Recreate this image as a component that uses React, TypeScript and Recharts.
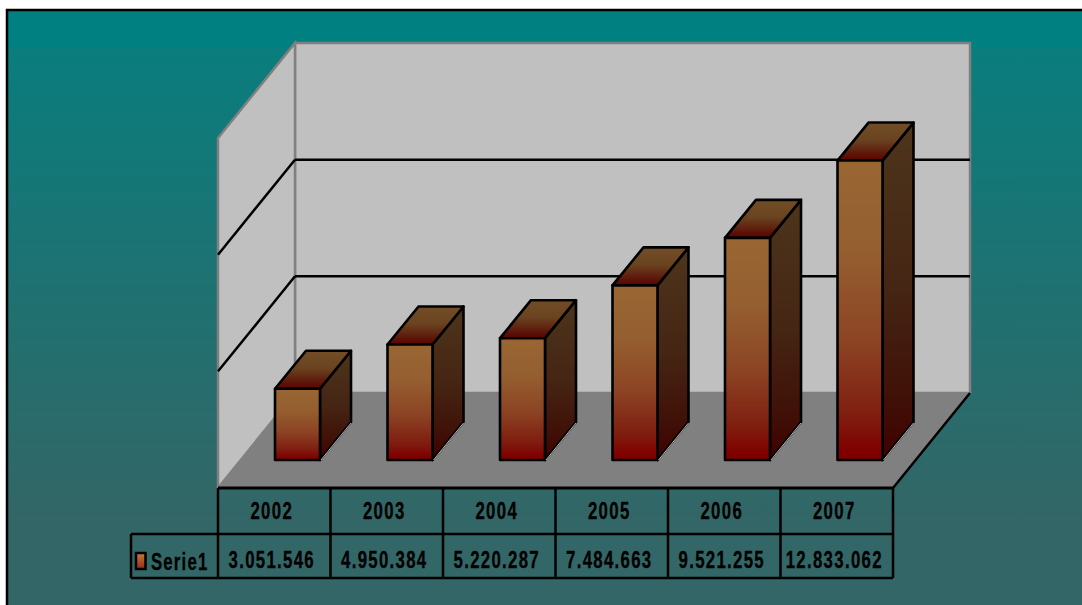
import { BarChart, Bar, XAxis, YAxis, CartesianGrid } from "recharts";

const years = ["2002", "2003", "2004", "2005", "2006", "2007"];
const serie1 = [3051546, 4950384, 5220287, 7484663, 9521255, 12833062];
const valueLabels = ["3.051.546", "4.950.384", "5.220.287", "7.484.663", "9.521.255", "12.833.062"];
const yTicks = [0, 5000000, 10000000, 15000000];

const data = years.map((year, i) => ({ year, value: serie1[i], label: valueLabels[i] }));

const W = 1082;
const H = 605;
// shift from the bars' plane to the back wall, and the depth of a bar
const WALL_DX = 54;
const WALL_DY = -67;
const BAR_DX = 31;
const BAR_DY = -38;
const columnLines = [218, 330.5, 443, 555.5, 668, 780.5, 893];

function CellText({ x, y, children }: { x: number; y: number; children: string }) {
  return (
    <text
      transform={`translate(${x} ${y}) scale(0.73 1)`}
      textAnchor="middle"
      fontFamily="Liberation Sans"
      fontWeight="bold"
      fontSize={23}
      letterSpacing={1.8}
      fill="#000"
      stroke="#000"
      strokeWidth={0.3}
    >
      {children}
    </text>
  );
}

function Box3D(props: any) {
  const { x, y, width, height } = props;
  const r = x + width;
  const b = y + height;
  return (
    <g stroke="#000" strokeWidth={2.6} strokeLinejoin="round">
      <polygon
        points={`${r},${y} ${r + BAR_DX},${y + BAR_DY} ${r + BAR_DX},${b + BAR_DY} ${r},${b}`}
        fill="url(#sideFace)"
      />
      <polygon
        points={`${x},${y} ${x + BAR_DX},${y + BAR_DY} ${r + BAR_DX},${y + BAR_DY} ${r},${y}`}
        fill="url(#topFace)"
      />
      <rect x={x} y={y} width={width} height={height} fill="url(#frontFace)" />
      <line x1={r + 1} y1={b} x2={r + BAR_DX} y2={b + BAR_DY + 1} stroke="#b8b8b8" strokeWidth={1} />
    </g>
  );
}

// gridlines run along the back wall and then down the left wall
function WallGridLine(props: any) {
  const { y1, x1 } = props;
  const y = y1 + WALL_DY;
  if (y < 60 || y > 380) return <g />;
  const backX = x1 + WALL_DX;
  return (
    <g stroke="#000" strokeWidth={2.5}>
      <line x1={backX} y1={y} x2={970} y2={y} />
      <line x1={backX} y1={y} x2={218} y2={y + 95} />
    </g>
  );
}

function TableTick(props: any) {
  const { x, index } = props;
  const cx = x - 25.5;
  return (
    <g>
      <CellText x={cx} y={519}>{years[index]}</CellText>
      <CellText x={cx} y={568}>{valueLabels[index]}</CellText>
    </g>
  );
}

function Backdrop() {
  return (
    <svg width={W} height={H} style={{ position: "absolute", left: 0, top: 0 }}>
      <defs>
        <linearGradient id="pageFill" gradientUnits="userSpaceOnUse" x1="0" y1="0" x2="0" y2={H}>
          <stop offset="0" stopColor="#008080" />
          <stop offset="0.079" stopColor="#008080" />
          <stop offset="0.08" stopColor="#0a7d7d" />
          <stop offset="0.86" stopColor="#336666" />
          <stop offset="1" stopColor="#336666" />
        </linearGradient>
        <linearGradient id="swatchFill" x1="0" y1="0" x2="0" y2="1">
          <stop offset="0" stopColor="#c07c3c" />
          <stop offset="1" stopColor="#9a2a14" />
        </linearGradient>
      </defs>
      <rect x={0} y={0} width={W} height={H} fill="#fff" />
      <rect x={7} y={10} width={W} height={H} fill="url(#pageFill)" stroke="#000" strokeWidth={2.5} />

      {/* walls and floor */}
      <polygon points="295,43 970,43 970,393 295,393" fill="#c0c0c0" stroke="#808080" strokeWidth={2.5} />
      <polygon points="218,138 295,43 295,393 218,488" fill="#c0c0c0" stroke="#808080" strokeWidth={2.5} />
      <polygon points="295,393 970,393 893,488 218,488" fill="#808080" />
      <line x1={893} y1={488} x2={970} y2={393} stroke="#000" strokeWidth={2.5} />

      {/* data table */}
      <g stroke="#000" strokeWidth={2.5} fill="none">
        <line x1={218} y1={488} x2={893} y2={488} strokeWidth={3} />
        <line x1={131} y1={534} x2={893} y2={534} />
        <line x1={131} y1={578} x2={893} y2={578} />
        <line x1={131} y1={534} x2={131} y2={578} />
        {columnLines.map((x) => (
          <line key={x} x1={x} y1={488} x2={x} y2={578} />
        ))}
      </g>
      <rect x={136} y={553} width={9.5} height={16} fill="url(#swatchFill)" stroke="#000" strokeWidth={2.5} />
      <text
        transform="translate(151 570) scale(0.73 1)"
        fontFamily="Liberation Sans"
        fontWeight="bold"
        fontSize={23}
        letterSpacing={1.6}
        fill="#000"
        stroke="#000"
        strokeWidth={0.3}
      >
        Serie1
      </text>
    </svg>
  );
}

export default function App() {
  return (
    <div style={{ position: "absolute", left: 0, top: 0, width: W, height: H, overflow: "hidden" }}>
      <Backdrop />
      <div style={{ position: "absolute", left: 0, top: 0 }}>
        <BarChart
          width={W}
          height={H}
          data={data}
          margin={{ top: 110, right: 166, bottom: 115, left: 241 }}
          barCategoryGap={0}
        >
          <defs>
            <linearGradient id="frontFace" x1="0" y1="0" x2="0" y2="1">
              <stop offset="0" stopColor="#996633" />
              <stop offset="0.3" stopColor="#955f30" />
              <stop offset="0.6" stopColor="#8c4424" />
              <stop offset="0.85" stopColor="#7f1e10" />
              <stop offset="0.97" stopColor="#800000" />
            </linearGradient>
            <linearGradient id="sideFace" x1="0" y1="0" x2="0" y2="1">
              <stop offset="0" stopColor="#4d351b" />
              <stop offset="0.5" stopColor="#452514" />
              <stop offset="0.8" stopColor="#401208" />
              <stop offset="1" stopColor="#400000" />
            </linearGradient>
            <linearGradient id="topFace" x1="0" y1="0" x2="0" y2="1">
              <stop offset="0" stopColor="#734d26" />
              <stop offset="0.45" stopColor="#6a4420" />
              <stop offset="0.85" stopColor="#5c1408" />
              <stop offset="1" stopColor="#600000" />
            </linearGradient>
          </defs>
          <CartesianGrid horizontal={WallGridLine} vertical={false} />
          <XAxis
            dataKey="year"
            height={30}
            axisLine={false}
            tickLine={false}
            tick={TableTick}
            interval={0}
          />
          <YAxis hide domain={[0, 15000000]} ticks={yTicks} />
          <Bar dataKey="value" name="Serie1" barSize={45} shape={Box3D} isAnimationActive={false} />
        </BarChart>
      </div>
    </div>
  );
}
